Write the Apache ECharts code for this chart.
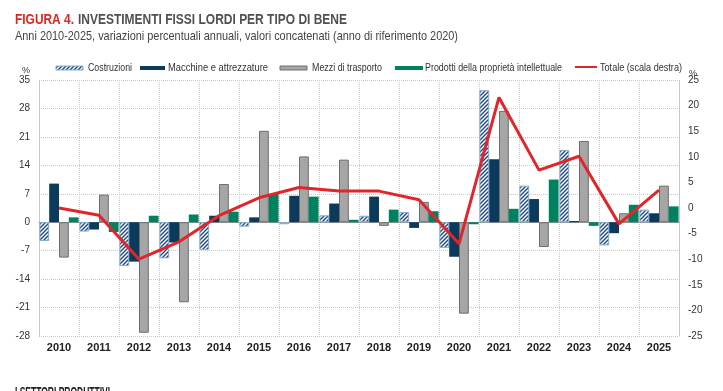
<!DOCTYPE html>
<html>
<head>
<meta charset="utf-8">
<script src="https://cdn.jsdelivr.net/npm/echarts@6/dist/echarts.min.js"></script>
<style>
html,body{margin:0;padding:0;background:#fff;}
#c{width:723px;height:391px;}
</style>
</head>
<body>
<div id="c"></div>
<script>
const years = ['2010','2011','2012','2013','2014','2015','2016','2017','2018','2019','2020','2021','2022','2023','2024','2025'];
const costruzioni = [-4.6,-2.3,-10.8,-8.9,-6.8,-1.1,-0.5,1.7,1.6,2.5,-6.3,32.5,9.0,17.8,-5.7,3.1];
const macchine    = [9.5,-1.8,-9.7,-5.0,1.6,1.2,6.5,4.6,6.3,-1.4,-8.5,15.5,5.7,0.3,-2.7,2.2];
const mezzi       = [-8.7,6.8,-27.2,-19.7,9.4,22.5,16.2,15.4,-0.9,5.0,-22.5,27.4,-6.1,20.0,2.2,9.0];
const prodotti    = [1.2,-2.4,1.6,1.9,2.6,6.9,6.3,0.6,3.1,2.7,-0.5,3.3,10.5,-0.9,4.3,3.9];
const totale      = [0.0,-1.4,-10.0,-6.6,-1.5,2.0,4.0,3.3,3.3,1.6,-7.0,21.6,7.4,10.1,-3.1,3.5];
const seriesNames = ['Costruzioni','Macchine e attrezzature','Mezzi di trasporto','Prodotti della proprietà intellettuale','Totale (scala destra)'];
const titleRed = 'FIGURA 4.';
const titleMain = 'INVESTIMENTI FISSI LORDI PER TIPO DI BENE';
const subtitle = 'Anni 2010-2025, variazioni percentuali annuali, valori concatenati (anno di riferimento 2020)';
const nextSection = 'I SETTORI PRODUTTIVI';

const FN = "'Liberation Sans', Arial, sans-serif";
const COL = {costr:'#1d4a78', costrBorder:'#86acd0', macch:'#0c3a5c', mezzi:'#a6a6a6', mezziBorder:'#6e6e6e', prod:'#00815f', tot:'#e2242b'};

// hatch pattern
const pc = document.createElement('canvas');
pc.width = 4; pc.height = 4;
const ctx = pc.getContext('2d');
ctx.fillStyle = '#ffffff';
ctx.fillRect(0,0,4,4);
ctx.strokeStyle = COL.costr;
ctx.lineWidth = 1.4;
ctx.beginPath();
ctx.moveTo(-1,5); ctx.lineTo(5,-1);
ctx.moveTo(-1,1); ctx.lineTo(1,-1);
ctx.moveTo(3,5); ctx.lineTo(5,3);
ctx.stroke();
const hatch = {image:pc, repeat:'repeat'};

// measuring helper to emulate a condensed font
const mc = document.createElement('canvas').getContext('2d');
function fitText(text, font, x, y, targetW, fill, va){
  mc.font = font;
  const w = mc.measureText(text).width;
  return {type:'text', x:x, y:y, scaleX: targetW / w, silent:true,
    style:{text:text, font:font, fill:fill, verticalAlign: va || 'middle', textVerticalAlign: va || 'middle', align:'left', textAlign:'left'}};
}

const legFont = '11px ' + FN;
const legY = 68;
const graphics = [
  fitText(titleRed, 'bold 15.5px ' + FN, 15, 20, 59, '#e3231f'),
  fitText(titleMain, 'bold 15.5px ' + FN, 78, 20, 269, '#505050'),
  fitText(subtitle, '13px ' + FN, 15, 36, 443, '#444'),
  fitText(nextSection, 'bold 15px ' + FN, 15, 385, 95, '#222', 'top'),
  {type:'text', x:22, y:71, silent:true, style:{text:'%', font:'9px '+FN, fill:'#333', verticalAlign:'middle', textVerticalAlign:'middle'}},
  {type:'text', x:689, y:74, silent:true, style:{text:'%', font:'9px '+FN, fill:'#333', verticalAlign:'middle', textVerticalAlign:'middle'}},
  // legend
  {type:'rect', shape:{x:56, y:66, width:27, height:4}, style:{fill:hatch, stroke:COL.costrBorder, lineWidth:1}, silent:true},
  fitText(seriesNames[0], legFont, 88, legY, 44, '#333'),
  {type:'rect', shape:{x:140, y:66, width:25, height:4}, style:{fill:COL.macch}, silent:true},
  fitText(seriesNames[1], legFont, 168, legY, 100, '#333'),
  {type:'rect', shape:{x:280, y:66, width:27, height:4}, style:{fill:COL.mezzi, stroke:COL.mezziBorder, lineWidth:1}, silent:true},
  fitText(seriesNames[2], legFont, 312, legY, 70, '#333'),
  {type:'rect', shape:{x:395, y:66, width:28, height:4}, style:{fill:COL.prod}, silent:true},
  fitText(seriesNames[3], legFont, 425, legY, 137, '#333'),
  {type:'line', shape:{x1:575, y1:67, x2:597, y2:67}, style:{stroke:COL.tot, lineWidth:2}, silent:true},
  fitText(seriesNames[4], legFont, 600, legY, 82, '#333')
];

const chart = echarts.init(document.getElementById('c'), null, {renderer:'canvas'});
const barCommon = {type:'bar', barGap:'0%', barCategoryGap:'2%', yAxisIndex:0};
chart.setOption({
  animation:false,
  grid:{left:39, right:44, top:80, bottom:55, containLabel:false},
  xAxis:{
    type:'category', data:years,
    axisLine:{onZero:true, lineStyle:{color:'#999', width:1}},
    axisTick:{show:false},
    axisLabel:{color:'#222', fontFamily:FN, fontWeight:'bold', fontSize:11, margin:6},
    splitLine:{show:true, lineStyle:{color:'#c8c8c8', type:'dotted'}}
  },
  yAxis:[
    {type:'value', min:-28, max:35, interval:7,
     axisLine:{show:true, lineStyle:{color:'#c8c8c8', type:'dotted'}}, axisTick:{show:false},
     axisLabel:{color:'#333', fontFamily:FN, fontSize:10, margin:9},
     splitLine:{lineStyle:{color:'#c8c8c8', type:'dotted'}}},
    {type:'value', min:-25, max:25, interval:5,
     axisLine:{show:true, lineStyle:{color:'#c8c8c8', type:'dotted'}}, axisTick:{show:false},
     axisLabel:{color:'#333', fontFamily:FN, fontSize:10, margin:9},
     splitLine:{show:false}}
  ],
  graphic:graphics,
  series:[
    Object.assign({}, barCommon, {name:seriesNames[0], data:costruzioni,
      itemStyle:{color:hatch, borderColor:COL.costrBorder, borderWidth:1}}),
    Object.assign({}, barCommon, {name:seriesNames[1], data:macchine,
      itemStyle:{color:COL.macch}}),
    Object.assign({}, barCommon, {name:seriesNames[2], data:mezzi,
      itemStyle:{color:COL.mezzi, borderColor:COL.mezziBorder, borderWidth:1}}),
    Object.assign({}, barCommon, {name:seriesNames[3], data:prodotti,
      itemStyle:{color:COL.prod}}),
    {type:'line', name:seriesNames[4], data:totale, yAxisIndex:1,
     symbol:'none', lineStyle:{color:COL.tot, width:3}, itemStyle:{color:COL.tot}, z:5}
  ]
});
</script>
</body>
</html>
